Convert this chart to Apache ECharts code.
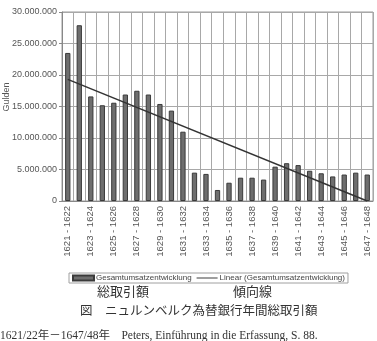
<!DOCTYPE html>
<html>
<head>
<meta charset="utf-8">
<script src="https://cdn.jsdelivr.net/npm/echarts@6/dist/echarts.min.js"></script>
<style>
html, body { margin: 0; padding: 0; background: #fff; }
#chart { width: 377px; height: 341px; }
</style>
</head>
<body>
<div id="chart"></div>
<script>
// Jahresabschnitte 1621/22 - 1647/48
var periods = ['1621 - 1622', '1622 - 1623', '1623 - 1624', '1624 - 1625', '1625 - 1626',
	'1626 - 1627', '1627 - 1628', '1628 - 1629', '1629 - 1630', '1630 - 1631',
	'1631 - 1632', '1632 - 1633', '1633 - 1634', '1634 - 1635', '1635 - 1636',
	'1636 - 1637', '1637 - 1638', '1638 - 1639', '1639 - 1640', '1640 - 1641',
	'1641 - 1642', '1642 - 1643', '1643 - 1644', '1644 - 1645', '1645 - 1646',
	'1646 - 1647', '1647 - 1648']
// Gesamtumsatz in Gulden
var turnover = [23500000, 27900000, 16600000, 15200000, 15600000,
	16900000, 17500000, 16900000, 15400000, 14350000,
	11000000, 4500000, 4300000, 1750000, 2900000,
	3700000, 3700000, 3400000, 5450000, 6000000,
	5700000, 4800000, 4400000, 3900000, 4200000,
	4500000, 4200000]
// Linear trend, read at first and last period
var trendEnds = [19300000, 0]
var yTicks = { min: 0, max: 30000000, interval: 5000000 }

var myChart = echarts.init(document.getElementById('chart'))

function fmt(v) {
	return String(v).replace(/\B(?=(\d{3})+(?!\d))/g, '.')
}

var option = {
	animation: false,
	backgroundColor: '#fff',
	grid: {
		left: 62,
		right: 4,
		top: 12,
		bottom: 140,
		outerBoundsMode: 'none',
		containLabel: false,
		show: true,
		borderColor: '#9a9a9a',
		borderWidth: 1
	},
	legend: {
		left: 69,
		top: 273,
		width: 300,
		padding: [1, 3],
		itemGap: 5,
		itemWidth: 21,
		itemHeight: 5,
		borderColor: '#a0a0a0',
		borderWidth: 1,
		textStyle: {
			fontFamily: 'Liberation Sans',
			fontSize: 8,
			color: '#444',
			padding: [0, 0, 0, -3]
		},
		data: [{
			name: 'Gesamtumsatzentwicklung',
			icon: 'rect'
		}, {
			name: 'Linear (Gesamtumsatzentwicklung)',
			icon: 'path://M0,0 L22,0 L22,1 L0,1 Z',
			itemStyle: { color: '#333' }
		}]
	},
	xAxis: {
		type: 'category',
		data: periods,
		boundaryGap: true,
		axisLine: { lineStyle: { color: '#888' } },
		axisTick: { show: false },
		splitLine: {
			show: true,
			interval: 0,
			lineStyle: { color: '#a8a8a8', width: 1 }
		},
		axisLabel: {
			interval: 1,
			rotate: 90,
			margin: 5,
			fontFamily: 'Liberation Sans',
			fontSize: 9.5,
			color: '#555'
		}
	},
	yAxis: {
		type: 'value',
		min: yTicks.min,
		max: yTicks.max,
		interval: yTicks.interval,
		axisLine: { show: true, lineStyle: { color: '#888' } },
		axisTick: { show: true, length: 3, lineStyle: { color: '#888' } },
		splitLine: { lineStyle: { color: '#a8a8a8' } },
		axisLabel: {
			margin: 5,
			fontFamily: 'Liberation Sans',
			fontSize: 9,
			color: '#555',
			formatter: fmt
		}
	},
	series: [{
		name: 'Gesamtumsatzentwicklung',
		type: 'bar',
		data: turnover,
		barWidth: '46%',
		itemStyle: {
			color: '#6e6e6e',
			borderColor: '#3a3a3a',
			borderWidth: 1
		}
	}, {
		name: 'Linear (Gesamtumsatzentwicklung)',
		type: 'line',
		data: [[periods[0], trendEnds[0]], [periods[periods.length - 1], trendEnds[1]]],
		showSymbol: false,
		symbol: 'none',
		lineStyle: { color: '#333', width: 1.5 },
		itemStyle: { color: '#333' },
		z: 5
	}],
	graphic: [{
		type: 'text',
		x: 7,
		y: 97,
		rotation: Math.PI / 2,
		style: {
			text: 'Gulden',
			font: '9px "Liberation Sans"',
			fill: '#555',
			align: 'center',
			verticalAlign: 'middle'
		}
	}, {
		type: 'text',
		left: 97,
		top: 285,
		style: {
			text: '総取引額',
			font: '13px "Noto Sans CJK JP"',
			fill: '#333'
		}
	}, {
		type: 'text',
		left: 233,
		top: 285,
		style: {
			text: '傾向線',
			font: '13px "Noto Sans CJK JP"',
			fill: '#333'
		}
	}, {
		type: 'text',
		left: 80,
		top: 304,
		style: {
			text: '図　ニュルンベルク為替銀行年間総取引額',
			font: '12.5px "Noto Sans CJK JP"',
			fill: '#333'
		}
	}, {
		type: 'text',
		left: 0,
		top: 330,
		style: {
			text: '1621/22年－1647/48年　Peters, Einführung in die Erfassung, S. 88.',
			font: '11.5px "Liberation Serif", "Noto Sans CJK JP"',
			fill: '#333'
		}
	}]
};
myChart.setOption(option)
</script>
</body>
</html>
